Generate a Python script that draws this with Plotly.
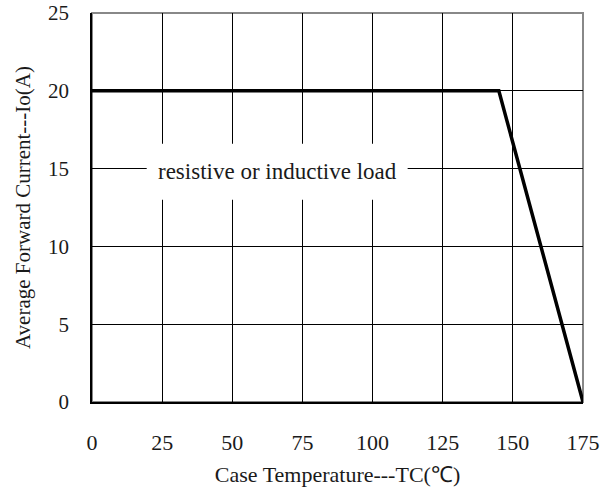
import plotly.graph_objects as go

temp = [0, 145, 175]
current = [20, 20, 0]
x_ticks = [0, 25, 50, 75, 100, 125, 150, 175]
y_ticks = [0, 5, 10, 15, 20, 25]
label_text = "resistive or inductive load"
label_x, label_y = 66, 14.8

FONT = "Liberation Serif"
TXT = "#1a1a1a"

fig = go.Figure()
fig.add_trace(go.Scatter(x=temp, y=current, mode="lines",
                         line=dict(color="black", width=3.5), hoverinfo="skip"))

# white box behind the label
fig.add_shape(type="rect", xref="x", yref="y",
              x0=label_x - 46.5, x1=label_x + 46.5,
              y0=label_y - 1.8, y1=label_y + 1.8,
              fillcolor="white", line=dict(width=0), layer="above")
fig.add_annotation(x=label_x, y=label_y, xref="x", yref="y", text=label_text,
                   showarrow=False, font=dict(family=FONT, size=23, color=TXT))

fig.update_layout(
    width=600, height=493,
    margin=dict(l=92, r=17, t=13, b=91, autoexpand=False),
    paper_bgcolor="white", plot_bgcolor="white",
    showlegend=False,
    font=dict(family=FONT, size=20, color=TXT),
)
fig.update_xaxes(range=[0, 175], tickvals=x_ticks, showgrid=True, gridcolor="black",
                 gridwidth=1, showline=True, linecolor="black", linewidth=1.5,
                 mirror=False, zeroline=False, ticks="", ticklabelstandoff=20,
                 automargin=False, ticklabeloverflow="allow",
                 tickfont=dict(family=FONT, size=22, color=TXT),
                 title=dict(text="Case Temperature---TC(℃)", standoff=12,
                            font=dict(family=FONT, size=22, color=TXT)))
fig.update_yaxes(range=[0, 25], tickvals=y_ticks, showgrid=True, gridcolor="black",
                 gridwidth=1, showline=True, linecolor="black", linewidth=1.5,
                 zeroline=False, ticks="", ticklabelstandoff=17,
                 automargin=False, ticklabeloverflow="allow",
                 tickfont=dict(family=FONT, size=21, color=TXT),
                 title=dict(text="Average Forward Current---Io(A)", standoff=12,
                            font=dict(family=FONT, size=21, color=TXT)))
# grey border on top and right
fig.add_shape(type="rect", xref="paper", yref="paper", x0=0, x1=1, y0=0, y1=1,
              line=dict(color="#888", width=2), layer="below")
fig.write_html("out.html")
